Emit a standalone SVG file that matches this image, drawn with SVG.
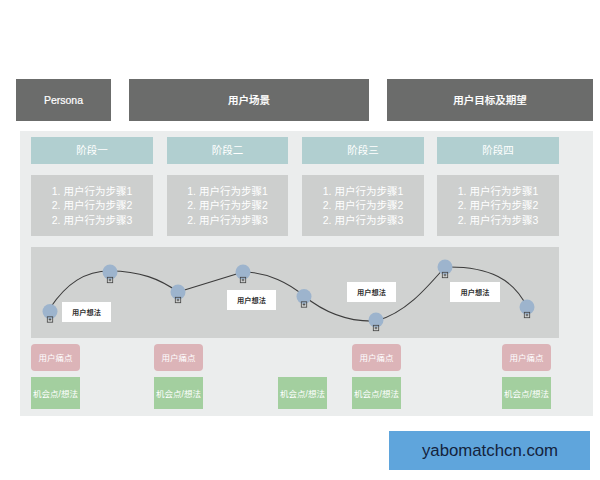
<svg xmlns="http://www.w3.org/2000/svg" width="600" height="480" viewBox="0 0 600 480">
<style>
text{font-family:"Liberation Sans","Noto Sans CJK SC",sans-serif;text-anchor:middle}
.hd{fill:#6b6c6b}.hdt{fill:#fff;font-size:10.5px;font-weight:500;stroke:#fff;stroke-width:.2}
.st{fill:#b1cfd0}.stt{fill:#fff;font-size:10.5px}
.bx{fill:#cdcfce}.bxt{fill:#fff;font-size:10.5px}
.nt{fill:#fff}.ntt{fill:#333;font-size:7.200px;font-weight:bold}
.pain{fill:#dcb4b8}.opp{fill:#a3cf9f}.wt{fill:#fff;font-size:8.500px}
.dot{fill:#9db4cd}.pl{fill:none;stroke:#444;stroke-width:.8}
#curve path{fill:none;stroke:#3c3c3c;stroke-width:1.1}
</style>
<defs>
<g id="m"><circle class="dot" r="7.500"/><rect class="pl" x="-2.700" y="5.300" width="5.400" height="5.400"/><path class="pl" d="M-1.300 8H1.300M0 6.700V9.300"/></g>
</defs>
<rect width="600" height="480" fill="#fff"/>
<g id="persona"><rect class="hd" x="16" y="79" width="95" height="42"/><text class="hdt" x="63.500" y="104">Persona</text></g>
<g id="scene"><rect class="hd" x="129" y="79" width="240" height="42"/><text class="hdt" x="249" y="104">用户场景</text></g>
<g id="goal"><rect class="hd" x="387" y="79" width="206" height="42"/><text class="hdt" x="490" y="104">用户目标及期望</text></g>
<rect id="panel" x="20" y="131" width="573" height="285" fill="#ebeded"/>
<g id="s1"><rect class="st" x="31" y="137" width="122" height="27"/><text class="stt" x="92" y="154">阶段一</text></g>
<g id="s2"><rect class="st" x="167" y="137" width="121" height="27"/><text class="stt" x="227.500" y="154">阶段二</text></g>
<g id="s3"><rect class="st" x="302" y="137" width="122" height="27"/><text class="stt" x="363" y="154">阶段三</text></g>
<g id="s4"><rect class="st" x="437" y="137" width="122" height="27"/><text class="stt" x="498" y="154">阶段四</text></g>
<g id="b1"><rect class="bx" x="31" y="175" width="122" height="61"/><text class="bxt" x="92" y="195">1. 用户行为步骤1</text><text class="bxt" x="92" y="209">2. 用户行为步骤2</text><text class="bxt" x="92" y="224">2. 用户行为步骤3</text></g>
<g id="b2"><rect class="bx" x="167" y="175" width="121" height="61"/><text class="bxt" x="227.500" y="195">1. 用户行为步骤1</text><text class="bxt" x="227.500" y="209">2. 用户行为步骤2</text><text class="bxt" x="227.500" y="224">2. 用户行为步骤3</text></g>
<g id="b3"><rect class="bx" x="302" y="175" width="122" height="61"/><text class="bxt" x="363" y="195">1. 用户行为步骤1</text><text class="bxt" x="363" y="209">2. 用户行为步骤2</text><text class="bxt" x="363" y="224">2. 用户行为步骤3</text></g>
<g id="b4"><rect class="bx" x="437" y="175" width="122" height="61"/><text class="bxt" x="498" y="195">1. 用户行为步骤1</text><text class="bxt" x="498" y="209">2. 用户行为步骤2</text><text class="bxt" x="498" y="224">2. 用户行为步骤3</text></g>
<rect id="lane" x="31" y="247" width="528" height="91" fill="#d0d2d1"/>
<g id="curve">
<path d="M50 308C67 283 85 271 110 271C140 271 160 279 178 292"/>
<path d="M178 292L243 272"/>
<path d="M243 272C268 272 290 284 304 296"/>
<path d="M304 296C325 313 350 322 376 321C405 313 425 290 445 267"/>
<path d="M445 267C490 266 514 280 527 307"/>
</g>
<g id="p1"><use href="#m" x="50" y="311.500"/></g>
<g id="p2"><use href="#m" x="110" y="272"/></g>
<g id="p3"><use href="#m" x="178" y="292"/></g>
<g id="p4"><use href="#m" x="243" y="272"/></g>
<g id="p5"><use href="#m" x="304" y="296.500"/></g>
<g id="p6"><use href="#m" x="376" y="320"/></g>
<g id="p7"><use href="#m" x="445" y="267"/></g>
<g id="p8"><use href="#m" x="527" y="307"/></g>
<g id="n1"><rect class="nt" x="62" y="302" width="49" height="20"/><text class="ntt" x="86.500" y="314.500">用户想法</text></g>
<g id="n2"><rect class="nt" x="227" y="290" width="49" height="20"/><text class="ntt" x="251.500" y="302.500">用户想法</text></g>
<g id="n3"><rect class="nt" x="347" y="282" width="49" height="20"/><text class="ntt" x="371.500" y="294.500">用户想法</text></g>
<g id="n4"><rect class="nt" x="450" y="282" width="50" height="20"/><text class="ntt" x="475" y="294.500">用户想法</text></g>
<g id="r1"><rect class="pain" x="31" y="344" width="49" height="27" rx="4"/><text class="wt" x="55.500" y="360.500">用户痛点</text></g>
<g id="r2"><rect class="pain" x="154" y="344" width="49" height="27" rx="4"/><text class="wt" x="178.500" y="360.500">用户痛点</text></g>
<g id="r3"><rect class="pain" x="352" y="344" width="49" height="27" rx="4"/><text class="wt" x="376.500" y="360.500">用户痛点</text></g>
<g id="r4"><rect class="pain" x="502" y="344" width="49" height="27" rx="4"/><text class="wt" x="526.500" y="360.500">用户痛点</text></g>
<g id="g1"><rect class="opp" x="31" y="377" width="49" height="32"/><text class="wt" x="55.500" y="396.500">机会点/想法</text></g>
<g id="g2"><rect class="opp" x="154" y="377" width="49" height="32"/><text class="wt" x="178.500" y="396.500">机会点/想法</text></g>
<g id="g3"><rect class="opp" x="278" y="377" width="49" height="32"/><text class="wt" x="302.500" y="396.500">机会点/想法</text></g>
<g id="g4"><rect class="opp" x="352" y="377" width="49" height="32"/><text class="wt" x="376.500" y="396.500">机会点/想法</text></g>
<g id="g5"><rect class="opp" x="502" y="377" width="49" height="32"/><text class="wt" x="526.500" y="396.500">机会点/想法</text></g>
<g id="badge"><rect x="389" y="431" width="201" height="39" fill="#5fa5dc"/><text x="490" y="455.500" font-size="16.800" fill="#14233c">yabomatchcn.com</text></g>
</svg>
